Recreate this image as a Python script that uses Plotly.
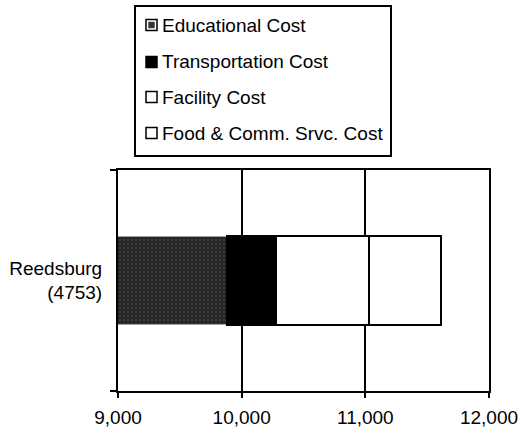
import plotly.graph_objects as go

categories = ["Reedsburg<br>(4753)"]
series_names = ["Educational Cost", "Transportation Cost", "Facility Cost", "Food & Comm. Srvc. Cost"]
educational = [9881]
transportation = [396]
facility = [752]
food = [582]
x_ticks = [9000, 10000, 11000, 12000]
x_tick_labels = ["9,000", "10,000", "11,000", "12,000"]

values = [educational, transportation, facility, food]
fills = ["#2b2b2b", "#000000", "#ffffff", "#ffffff"]
edges = ["#a0a0a0", "#000000", "#000000", "#000000"]

W, H = 518, 430
ML, MR, MT, MB = 118, 29, 170, 39
PW, PH = W - ML - MR, H - MT - MB
FONT = "Liberation Sans, Arial, sans-serif"
FS = 19


def px(x):
    return (x - ML) / PW


def py(y):
    return (H - MB - y) / PH


fig = go.Figure()
for i, (name, vals) in enumerate(zip(series_names, values)):
    marker = dict(color=fills[i], line=dict(color=edges[i], width=1.5 if i == 0 else 2))
    if i == 0:
        marker["pattern"] = dict(shape=".", fgcolor="#8a8a8a", bgcolor="#262626", size=4, solidity=0.12)
    fig.add_trace(go.Bar(
        y=categories, x=vals, name=name, orientation="h",
        marker=marker, showlegend=False,
    ))

# custom legend (box, swatches, labels)
shapes = [dict(type="rect", xref="paper", yref="paper",
               x0=px(135), x1=px(391), y0=py(156), y1=py(6),
               line=dict(color="black", width=2), fillcolor="white", layer="above")]
annotations = []
row_y = [25, 62, 97, 133]
for i, name in enumerate(series_names):
    yc = row_y[i]
    sw_fill = "black" if i == 1 else "white"
    shapes.append(dict(type="rect", xref="paper", yref="paper",
                       x0=px(146), x1=px(157), y0=py(yc + 5.5), y1=py(yc - 5.5),
                       line=dict(color="black", width=1.5), fillcolor=sw_fill, layer="above"))
    if i == 0:
        shapes.append(dict(type="rect", xref="paper", yref="paper",
                           x0=px(148.5), x1=px(154.5), y0=py(yc + 3), y1=py(yc - 3),
                           line=dict(color="#444444", width=0.5), fillcolor="#333333", layer="above"))
    annotations.append(dict(text=name, xref="paper", yref="paper",
                            x=px(160), y=py(yc), xanchor="left", yanchor="middle",
                            showarrow=False, font=dict(family=FONT, size=FS, color="black")))

fig.update_layout(
    width=W, height=H,
    barmode="stack", bargap=0.6,
    plot_bgcolor="white", paper_bgcolor="white",
    margin=dict(l=ML, r=MR, t=MT, b=MB, autoexpand=False),
    font=dict(family=FONT, size=FS, color="black"),
    showlegend=False,
    shapes=shapes,
    annotations=annotations,
    xaxis=dict(
        range=[9000, 12000], tickvals=x_ticks, ticktext=x_tick_labels,
        showgrid=True, gridcolor="black", gridwidth=2,
        showline=True, linecolor="black", linewidth=2, mirror=True,
        zeroline=False, ticks="outside", ticklen=5, tickwidth=1.5, tickcolor="black",
        ticklabelstandoff=3, automargin=False, ticklabeloverflow="allow",
        tickfont=dict(size=FS),
    ),
    yaxis=dict(
        showgrid=False, showline=True, linecolor="black", linewidth=2, mirror=True,
        ticks="outside", tickson="boundaries", ticklen=6, tickwidth=1.5, tickcolor="black",
        ticklabelstandoff=10, automargin=False, tickfont=dict(size=FS),
    ),
)

fig.write_html("out.html", config={"displayModeBar": False},
               post_script="document.body.style.margin='0';")
